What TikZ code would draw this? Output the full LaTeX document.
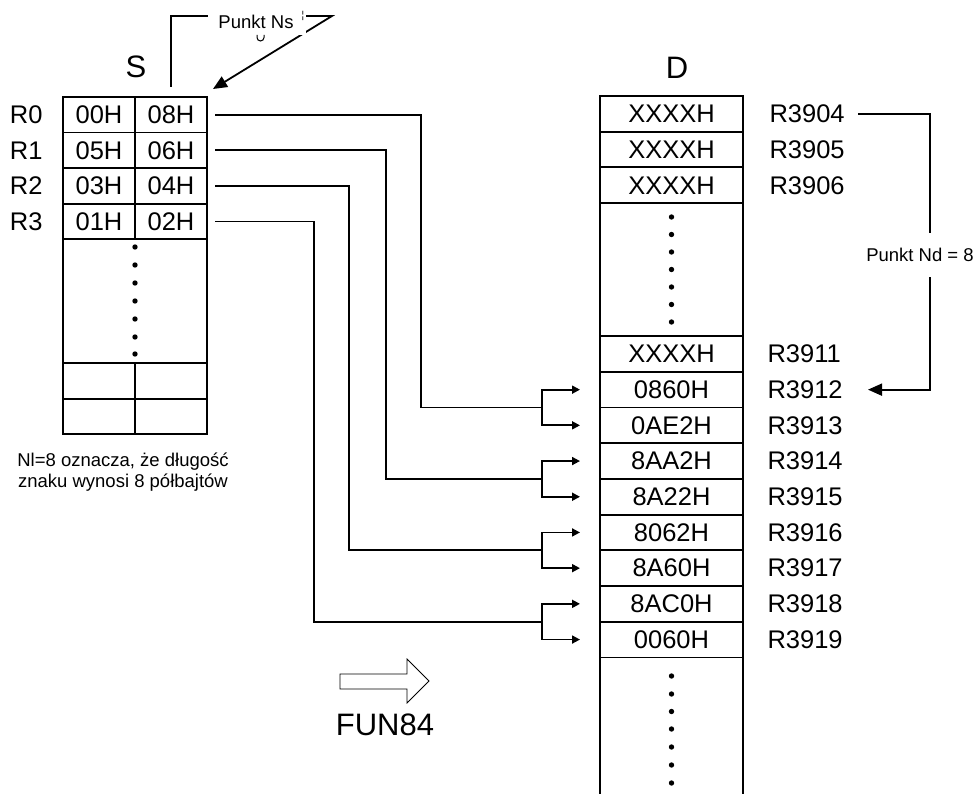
\documentclass[tikz,border=0pt]{standalone}
\usepackage{fontspec}
\setmainfont{Liberation Sans}
\usetikzlibrary{arrows.meta, positioning}

\begin{document}
\begin{tikzpicture}[
			x=1pt, y=-1pt,
			node distance=0pt,
			every node/.style={font=\fontsize{25.5}{28}\selectfont},
			scell/.style={
				draw, line width=1.8pt, outer sep=0pt, inner sep=0pt,
				minimum width=72pt, minimum height=35.6pt
			},
			dcell/.style={
				draw, line width=1.8pt, outer sep=0pt, inner sep=0pt,
				minimum width=143pt, minimum height=35.7pt
			},
			title/.style={font=\fontsize{31}{33}\selectfont},
			small/.style={font=\fontsize{18.5}{21}\selectfont},
			link/.style={line width=1.8pt},
			arrow/.style={
				-{Triangle[length=8pt,width=8pt]},
				line width=1.8pt
			},
			pointer/.style={
				-{Triangle[length=14pt,width=12pt]},
				line width=1.8pt
			}
			]
			\useasboundingbox (0,0) rectangle (974,794);
			
			% source table S
			\node[title] (stitle) at (136,67) {S};
			\node[scell] (s0a) at (99,114.8) {00H};
			\node[scell, right=of s0a] (s0b) {08H};
			\node[scell, below=of s0a] (s1a) {05H};
			\node[scell, right=of s1a] (s1b) {06H};
			\node[scell, below=of s1a] (s2a) {03H};
			\node[scell, right=of s2a] (s2b) {04H};
			\node[scell, below=of s2a] (s3a) {01H};
			\node[scell, right=of s3a] (s3b) {02H};
			\node[scell, minimum width=144pt, minimum height=123.6pt, below=of s3a.south east] (sdots) {};
			\node[scell, anchor=north west] (s8a) at (sdots.south west) {};
			\node[scell, right=of s8a] (s8b) {};
			\node[scell, below=of s8a] (s9a) {};
			\node[scell, right=of s9a] (s9b) {};
			\fill (135,247) circle (2.7pt) (135,265) circle (2.7pt) (135,283) circle (2.7pt)
			(135,301) circle (2.7pt) (135,319) circle (2.7pt) (135,337) circle (2.7pt) (135,354) circle (2.7pt);
			
			\node[left=17pt of s0a] (r0) {R0};
			\node[left=17pt of s1a] (r1) {R1};
			\node[left=17pt of s2a] (r2) {R2};
			\node[left=17pt of s3a] (r3) {R3};
			
			\node[small, align=center] (note) at (123,472) {Nl=8 oznacza, że długość\\znaku wynosi 8 półbajtów};
			
			% pointer Ns
			\coordinate (nsc) at (332,16);
			\draw[pointer] ([yshift=10pt]s0b.north) |- (nsc) -- ([shift={(6pt,8pt)}]s0b.north east);
			\fill[white] (208,4) rectangle (306,35);
			\draw[line width=1pt] (257,35) -- (257,37.5) arc (180:360:3.5pt) -- (264,35);
			\node[small] (ns) at (256,22) {Punkt Ns};
			\node[font=\fontsize{10}{10}\selectfont] (nstick) at (303,16) {¦};
			
			% destination table D
			\node[title] (dtitle) at (677,68) {D};
			\node[dcell] (d04) at (671.5,113.85) {XXXXH};
			\node[dcell, below=of d04] (d05) {XXXXH};
			\node[dcell, below=of d05] (d06) {XXXXH};
			\node[dcell, minimum height=133pt, below=of d06] (ddots) {};
			\node[dcell, below=of ddots] (d11) {XXXXH};
			\node[dcell, below=of d11] (d12) {0860H};
			\node[dcell, below=of d12] (d13) {0AE2H};
			\node[dcell, below=of d13] (d14) {8AA2H};
			\node[dcell, below=of d14] (d15) {8A22H};
			\node[dcell, below=of d15] (d16) {8062H};
			\node[dcell, below=of d16] (d17) {8A60H};
			\node[dcell, below=of d17] (d18) {8AC0H};
			\node[dcell, below=of d18] (d19) {0060H};
			\draw[link] (d19.south west) -- ++(0,140);
			\draw[link] (d19.south east) -- ++(0,140);
			\fill (671.5,217) circle (2.7pt) (671.5,234.5) circle (2.7pt) (671.5,252) circle (2.7pt)
			(671.5,269.5) circle (2.7pt) (671.5,287) circle (2.7pt) (671.5,304.5) circle (2.7pt) (671.5,322) circle (2.7pt);
			\fill (671.5,676) circle (2.7pt) (671.5,694) circle (2.7pt) (671.5,711.5) circle (2.7pt)
			(671.5,729) circle (2.7pt) (671.5,747) circle (2.7pt) (671.5,765) circle (2.7pt) (671.5,783) circle (2.7pt);
			
			\node[right=23pt of d04] (l04) {R3904};
			\node[right=23pt of d05] (l05) {R3905};
			\node[right=23pt of d06] (l06) {R3906};
			\node[right=21pt of d11] (l11) {R3911};
			\node[right=21pt of d12] (l12) {R3912};
			\node[right=21pt of d13] (l13) {R3913};
			\node[right=21pt of d14] (l14) {R3914};
			\node[right=21pt of d15] (l15) {R3915};
			\node[right=21pt of d16] (l16) {R3916};
			\node[right=21pt of d17] (l17) {R3917};
			\node[right=21pt of d18] (l18) {R3918};
			\node[right=21pt of d19] (l19) {R3919};
			
			% pointer Nd
			\draw[pointer] ([xshift=115pt]d04.east) -- ([xshift=187pt]d04.east) |- ([xshift=125pt]d12.east);
			\node[small, fill=white, minimum height=44pt, inner sep=0pt] (nd) at (920,255) {Punkt Nd = 8};
			
			% links S -> D
			\coordinate (f0) at ([xshift=-58pt]d12.south west);
			\coordinate (f1) at ([xshift=-58pt]d14.south west);
			\coordinate (f2) at ([xshift=-58pt]d16.south west);
			\coordinate (f3) at ([xshift=-58pt]d18.south west);
			
			\draw[link] ([xshift=8pt]s0b.east) -| ([xshift=-121pt]f0) -- (f0);
			\draw[link] ([xshift=8pt]s1b.east) -| ([xshift=-156pt]f1) -- (f1);
			\draw[link] ([xshift=8pt]s2b.east) -| ([xshift=-193pt]f2) -- (f2);
			\draw[link] ([xshift=8pt]s3b.east) -| ([xshift=-228pt]f3) -- (f3);
			
			\draw[arrow] (f0) |- ([xshift=-20pt]d12.west);
			\draw[arrow] (f0) |- ([xshift=-20pt]d13.west);
			\draw[arrow] (f1) |- ([xshift=-20pt]d14.west);
			\draw[arrow] (f1) |- ([xshift=-20pt]d15.west);
			\draw[arrow] (f2) |- ([xshift=-20pt]d16.west);
			\draw[arrow] (f2) |- ([xshift=-20pt]d17.west);
			\draw[arrow] (f3) |- ([xshift=-20pt]d18.west);
			\draw[arrow] (f3) |- ([xshift=-20pt]d19.west);
			
			% FUN84
			\draw[line width=0.8pt] (340,674) -- (407,674) -- (407,659) -- (429,681) -- (407,703) -- (407,689) -- (340,689) -- cycle;
			\node[title] (fun) at (385,725) {FUN84};
		\end{tikzpicture}
\end{document}
